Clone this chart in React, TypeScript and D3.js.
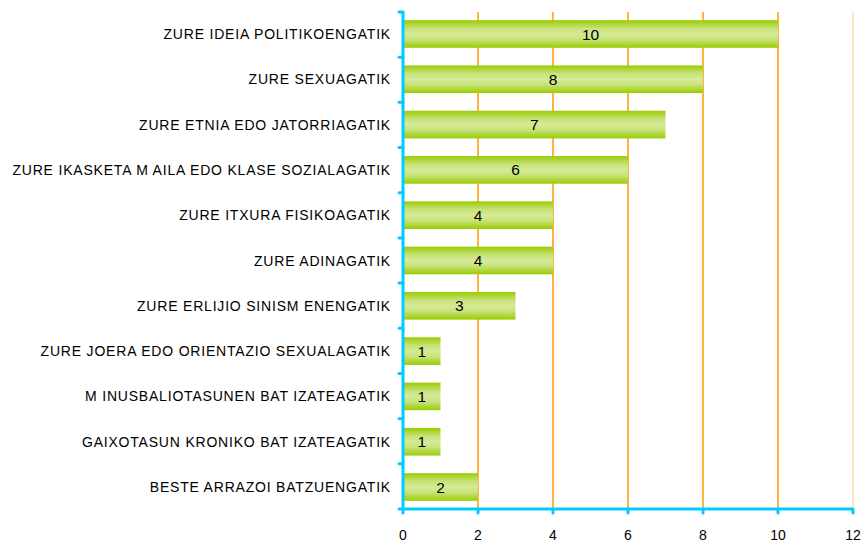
import React from "react";
import * as d3 from "d3";

const categories = [
  "ZURE IDEIA POLITIKOENGATIK",
  "ZURE SEXUAGATIK",
  "ZURE ETNIA EDO JATORRIAGATIK",
  "ZURE IKASKETA M AILA EDO KLASE SOZIALAGATIK",
  "ZURE ITXURA FISIKOAGATIK",
  "ZURE ADINAGATIK",
  "ZURE ERLIJIO SINISM ENENGATIK",
  "ZURE JOERA EDO ORIENTAZIO SEXUALAGATIK",
  "M INUSBALIOTASUNEN BAT IZATEAGATIK",
  "GAIXOTASUN KRONIKO BAT IZATEAGATIK",
  "BESTE ARRAZOI BATZUENGATIK",
];
const values = [10, 8, 7, 6, 4, 4, 3, 1, 1, 1, 2];
const xTicks = [0, 2, 4, 6, 8, 10, 12];

export default function App() {
  const W = 863, H = 542;
  const x0 = 403, x1 = 853, yTop = 12, yBot = 509;
  const x = d3.scaleLinear().domain([0, 12]).range([x0, x1]);
  const y = d3.scaleBand<string>().domain(categories).range([yTop, yBot]).paddingInner(0.39).paddingOuter(0.18);
  const axisColor = "#00CCFF";
  const gridColor = "#FF9900";
  const font = "Liberation Sans, Arial, sans-serif";
  const bounds = d3.range(categories.length + 1).map((i) => yTop + (i * (yBot - yTop)) / categories.length);
  return (
    <svg width={W} height={H} style={{ position: "absolute", left: 0, top: 0 }} fontFamily={font}>
      <defs>
        <linearGradient id="barGrad" x1="0" y1="0" x2="0" y2="1">
          <stop offset="0" stopColor="#99CC00" />
          <stop offset="0.3" stopColor="#C8E27A" />
          <stop offset="0.5" stopColor="#D6EA96" />
          <stop offset="0.7" stopColor="#C8E27A" />
          <stop offset="1" stopColor="#99CC00" />
        </linearGradient>
      </defs>
      {xTicks.filter((t) => t > 0).map((t) => (
        <line key={"g" + t} x1={x(t)} x2={x(t)} y1={yTop} y2={yBot} stroke={gridColor} strokeWidth={1.5} opacity={t === 12 ? 0.3 : 1} />
      ))}
      {categories.map((c, i) => (
        <g key={c}>
          <rect x={x(0)} y={y(c)} width={x(values[i]) - x(0)} height={y.bandwidth()} fill="url(#barGrad)" />
          <text x={(x(0) + x(values[i])) / 2} y={(y(c) as number) + y.bandwidth() / 2} dy="0.36em" textAnchor="middle" fontSize={15.5} fill="#000">
            {values[i]}
          </text>
          <text x={391} y={(y(c) as number) + y.bandwidth() / 2} dy="0.36em" textAnchor="end" fontSize={14} letterSpacing={0.8} fill="#000">
            {c}
          </text>
        </g>
      ))}
      <line x1={x0} x2={x0} y1={yTop} y2={yBot + 1} stroke={axisColor} strokeWidth={3} />
      {bounds.map((b, i) => (
        <line key={"yt" + i} x1={x0 - 4} x2={x0} y1={b} y2={b} stroke={axisColor} strokeWidth={3} strokeLinecap="round" />
      ))}
      <line x1={x0} x2={x1} y1={yBot} y2={yBot} stroke={axisColor} strokeWidth={3} />
      {xTicks.map((t) => (
        <g key={"xt" + t}>
          <line x1={x(t)} x2={x(t)} y1={yBot} y2={yBot + 4} stroke={axisColor} strokeWidth={3} strokeLinecap="round" />
          <text x={x(t)} y={539.5} textAnchor="middle" fontSize={14} fill="#000">{t}</text>
        </g>
      ))}
    </svg>
  );
}
